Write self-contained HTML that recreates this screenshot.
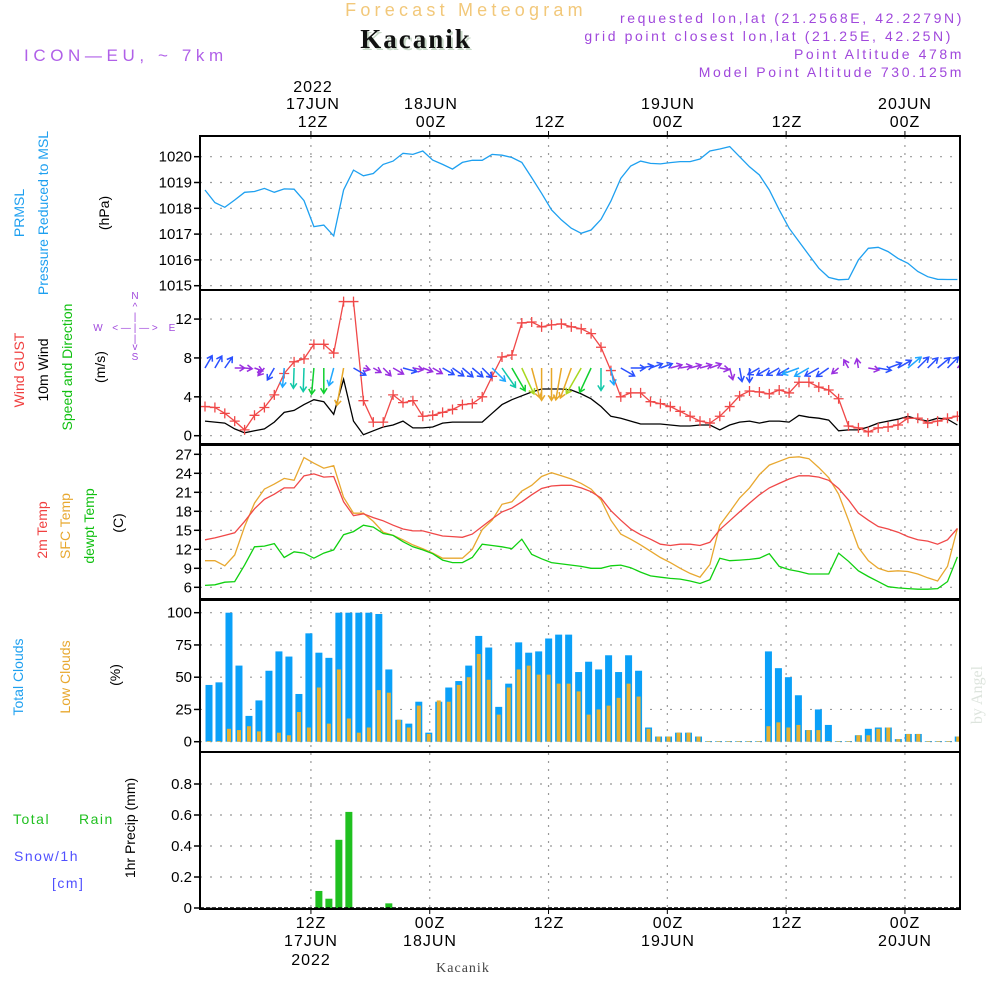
<!DOCTYPE html>
<html><head><meta charset="utf-8"><title>Meteogram Kacanik</title>
<style>
html,body{margin:0;padding:0;background:#fff;}
svg{display:block;font-family:"Liberation Sans",sans-serif;}
.t{font-size:14px;fill:#000;}
</style></head>
<body>
<svg id="chart" width="1000" height="1000" viewBox="0 0 1000 1000">
<defs>
<clipPath id="c1"><rect x="201" y="137" width="758" height="153"/></clipPath>
<clipPath id="c2"><rect x="201" y="291" width="758" height="153"/></clipPath>
<clipPath id="c3"><rect x="201" y="446" width="758" height="153"/></clipPath>
<clipPath id="c4"><rect x="201" y="601" width="758" height="151"/></clipPath>
<clipPath id="c5"><rect x="201" y="753" width="758" height="156"/></clipPath>
</defs>
<!-- header -->
<text x="466" y="16" text-anchor="middle" font-size="18" fill="#f2c87a" letter-spacing="4.2">Forecast Meteogram</text>
<text x="418" y="50" text-anchor="middle" font-size="27" font-weight="bold" font-family="Liberation Serif, serif" fill="#c8d8c8" letter-spacing="2">Kacanik</text>
<text x="416" y="48" text-anchor="middle" font-size="27" font-weight="bold" font-family="Liberation Serif, serif" fill="#111" letter-spacing="2">Kacanik</text>
<text x="24" y="61" font-size="17" fill="#b060e8" letter-spacing="4.6">ICON—EU, ~ 7km</text>
<g font-size="14" fill="#a048dc" text-anchor="end" letter-spacing="2.6">
<text x="964" y="23">requested lon,lat (21.2568E, 42.2279N)</text>
<text x="953" y="41">grid point closest lon,lat (21.25E, 42.25N)</text>
<text x="964" y="59">Point Altitude 478m</text>
<text x="964" y="77">Model Point Altitude 730.125m</text>
</g>
<!-- top time axis -->
<g class="t" font-size="16" fill="#222" text-anchor="middle" letter-spacing="1">
<text x="313" y="92" font-size="16">2022</text>
<text x="313" y="109" font-size="16">17JUN</text><text x="313" y="127" font-size="16">12Z</text>
<text x="431" y="109" font-size="16">18JUN</text><text x="431" y="127" font-size="16">00Z</text>
<text x="550" y="127" font-size="16">12Z</text>
<text x="668" y="109" font-size="16">19JUN</text><text x="668" y="127" font-size="16">00Z</text>
<text x="787" y="127" font-size="16">12Z</text>
<text x="905" y="109" font-size="16">20JUN</text><text x="905" y="127" font-size="16">00Z</text>
</g>
<g class="t" fill="#222" text-anchor="middle" letter-spacing="1">
<text x="311" y="928" font-size="16">12Z</text><text x="311" y="946" font-size="16">17JUN</text><text x="311" y="965" font-size="16">2022</text>
<text x="430" y="928" font-size="16">00Z</text><text x="430" y="946" font-size="16">18JUN</text>
<text x="549" y="928" font-size="16">12Z</text>
<text x="668" y="928" font-size="16">00Z</text><text x="668" y="946" font-size="16">19JUN</text>
<text x="787" y="928" font-size="16">12Z</text>
<text x="905" y="928" font-size="16">00Z</text><text x="905" y="946" font-size="16">20JUN</text>
</g>
<text x="463" y="972" text-anchor="middle" font-size="14" font-family="Liberation Serif, serif" fill="#444" letter-spacing="1">Kacanik</text>
<!-- left labels -->
<g font-size="14">
<text transform="translate(24,213) rotate(-90)" text-anchor="middle" fill="#1ea0f0">PRMSL</text>
<text transform="translate(48,213) rotate(-90)" text-anchor="middle" fill="#1ea0f0">Pressure Reduced to MSL</text>
<text transform="translate(109,213) rotate(-90)" text-anchor="middle" fill="#000">(hPa)</text>
<text transform="translate(24,370) rotate(-90)" text-anchor="middle" fill="#f04040">Wind GUST</text>
<text transform="translate(48,370) rotate(-90)" text-anchor="middle" fill="#000">10m Wind</text>
<text transform="translate(72,367) rotate(-90)" text-anchor="middle" fill="#10c010">Speed and Direction</text>
<text transform="translate(105,367) rotate(-90)" text-anchor="middle" fill="#000">(m/s)</text>
<text transform="translate(47,530) rotate(-90)" text-anchor="middle" fill="#f04040">2m Temp</text>
<text transform="translate(70,526) rotate(-90)" text-anchor="middle" fill="#e8a830">SFC Temp</text>
<text transform="translate(94,526) rotate(-90)" text-anchor="middle" fill="#10c010">dewpt Temp</text>
<text transform="translate(123,523) rotate(-90)" text-anchor="middle" fill="#000">(C)</text>
<text transform="translate(23,677) rotate(-90)" text-anchor="middle" fill="#1ea0f0">Total Clouds</text>
<text transform="translate(70,677) rotate(-90)" text-anchor="middle" fill="#e8a830">Low Clouds</text>
<text transform="translate(120,675) rotate(-90)" text-anchor="middle" fill="#000">(%)</text>
<text transform="translate(135,828) rotate(-90)" text-anchor="middle" fill="#000">1hr Precip (mm)</text>
<text x="13" y="824" fill="#20c020" letter-spacing="1.5">Total</text>
<text x="79" y="824" fill="#20c020" letter-spacing="1.5">Rain</text>
<text x="14" y="861" fill="#5050ff" letter-spacing="1.5">Snow/1h</text>
<text x="52" y="888" fill="#5050ff" letter-spacing="1.5">[cm]</text>
</g>
<g font-size="10" fill="#a048dc" text-anchor="middle">
<text x="135" y="299">N</text><text x="135" y="310">^</text><text x="135" y="320">|</text>
<text x="98" y="331">W</text><text x="135" y="331">&lt; — | — &gt;</text><text x="172" y="331">E</text>
<text x="135" y="342">|</text><text x="135" y="350">v</text><text x="135" y="360">S</text>
</g>
<text transform="translate(982,695) rotate(-90)" text-anchor="middle" font-size="16" font-family="Liberation Serif, serif" fill="#dde4dd">by Angel</text>
<g id="grid"></g>
<g id="marks"></g>
<g id="frames"></g>
</svg>
<script>
// ---- data ----
const pressure = [1018.71,1018.22,1018.04,1018.32,1018.62,1018.65,1018.77,1018.62,1018.75,1018.74,1018.3,1017.29,1017.35,1016.93,1018.71,1019.48,1019.26,1019.35,1019.70,1019.83,1020.13,1020.09,1020.22,1019.87,1019.70,1019.52,1019.78,1019.86,1019.86,1020.09,1020.06,1019.97,1019.78,1019.19,1018.58,1017.94,1017.55,1017.23,1017.03,1017.16,1017.57,1018.28,1019.16,1019.64,1019.83,1019.74,1019.72,1019.77,1019.81,1019.81,1019.91,1020.22,1020.30,1020.39,1020.0,1019.61,1019.29,1018.71,1017.94,1017.23,1016.71,1016.19,1015.68,1015.32,1015.23,1015.25,1016.0,1016.45,1016.49,1016.32,1016.06,1015.87,1015.55,1015.35,1015.25,1015.24,1015.24];
const gust = [3.0,2.9,2.3,1.5,0.6,2.1,2.9,4.2,6.4,7.6,7.9,9.4,9.4,8.5,13.8,13.8,3.6,1.4,1.4,4.2,3.4,3.6,2.0,2.1,2.4,2.7,3.2,3.3,4.0,6.1,8.1,8.3,11.6,11.7,11.2,11.4,11.5,11.2,11.0,10.5,9.1,6.7,4.0,4.4,4.4,3.5,3.3,3.0,2.5,2.0,1.5,1.3,2.0,3.0,4.1,4.6,4.5,4.3,4.7,4.4,5.5,5.5,5.0,4.7,3.8,1.0,0.8,0.4,0.8,0.9,1.1,1.8,1.8,1.3,1.5,1.8,2.0];
const wind = [1.5,1.4,1.3,0.7,0.3,0.5,0.7,1.4,2.4,2.6,3.2,3.7,3.5,2.2,5.8,1.5,0.1,0.5,0.9,1.1,1.5,0.8,0.8,0.9,1.3,1.4,1.4,1.4,1.4,2.3,3.2,3.7,4.1,4.5,4.8,4.8,4.8,4.7,4.3,3.8,3.0,2.0,1.8,1.5,1.2,1.2,1.2,1.1,1.0,1.0,1.1,1.1,0.6,1.1,1.4,1.5,1.3,1.5,1.5,1.4,2.1,1.9,1.8,1.6,0.5,0.6,0.6,0.9,1.3,1.5,1.7,2.0,1.7,1.5,1.8,1.7,1.1];
const windDir = [-60,-60,-55,0,5,20,130,120,95,92,92,95,90,105,100,30,15,30,45,30,15,10,20,30,30,35,40,40,45,45,55,60,65,75,90,90,100,110,120,115,90,80,30,0,-10,-20,-20,-15,-10,-15,-15,-20,10,75,80,90,150,150,150,150,160,150,150,145,140,-120,-100,10,10,-20,-30,-40,-45,-45,-40,-45,-50];
const temp2m = [13.5,13.8,14.2,14.6,16.4,18.4,19.9,20.7,21.7,21.7,23.6,23.9,23.4,23.5,19.5,17.3,17.6,17.0,16.5,15.8,15.2,14.9,14.9,14.5,14.1,14.0,13.9,14.4,15.6,16.8,17.9,18.5,19.5,20.6,21.6,22.0,22.1,22.1,21.7,21.1,20.1,18.1,16.6,15.2,14.3,13.6,12.8,12.6,12.8,12.8,12.6,13.1,15.1,16.5,17.9,19.3,20.6,21.7,22.4,23.1,23.6,23.6,23.4,22.9,21.6,19.8,17.7,16.6,15.6,15.2,14.7,14.0,13.5,13.3,12.8,13.5,15.3];
const tempSfc = [10.2,10.2,9.4,11.1,15.6,19.3,21.5,22.3,23.2,22.9,26.5,25.6,24.8,25.2,20.2,17.7,17.7,16.4,14.7,14.2,13.5,12.7,12.1,11.4,10.6,10.6,10.6,12.0,15.1,16.6,19.1,19.5,21.2,22.1,23.5,24.1,23.6,23.1,22.4,21.5,19.8,16.6,14.4,13.6,12.7,11.7,10.7,9.9,9.0,8.2,7.6,9.6,15.8,17.9,20.1,21.7,23.8,25.3,25.9,26.5,26.6,26.3,24.9,23.3,20.7,16.6,12.3,10.2,9.0,8.5,8.6,8.5,8.1,7.5,7.0,9.3,15.3];
const dewpt = [6.3,6.4,6.8,6.9,9.5,12.4,12.5,12.9,10.7,11.6,11.4,10.6,11.4,11.9,14.3,14.8,15.8,15.5,14.5,14.2,13.2,12.4,11.9,11.3,10.3,9.9,9.9,10.7,12.8,12.6,12.4,12.1,13.6,11.2,10.5,9.9,9.7,9.5,9.3,9.0,9.0,9.4,9.5,9.1,8.4,7.8,7.6,7.4,7.3,7.0,6.6,7.2,10.6,10.2,10.3,10.4,10.6,11.3,9.3,8.8,8.5,8.1,8.1,8.1,11.4,10.1,8.6,7.7,6.9,6.1,5.9,5.8,5.7,5.7,5.8,6.9,10.8];
const totalClouds = [44,46,100,59,20,32,55,70,66,37,84,69,65,100,100,100,100,99,56,17,14,31,7,31,42,47,59,82,73,27,45,77,69,70,80,83,83,54,62,56,67,54,67,55,11,4,4,7,7,4,0.5,0.5,0.5,0.5,0.5,0.5,70,57,50,36,9,25,13,0.5,0.5,5,10,11,11,2,6,6,0.5,0.5,0.5,4];
const lowClouds = [0.5,0.5,10,9,12,8,0.5,7,5,23,11,42,14,56,18,7,11,40,38,17,11,28,6,32,31,44,50,68,48,21,42,56,59,52,52,45,45,39,21,25,28,34,45,35,10,4,4,7,7,4,0.5,0.5,0.5,0.5,0.5,0.5,12,15,11,13,9,9,0.5,0.5,0.5,5,5,10,11,2,6,6,0.5,0.5,0.5,4];
const precipIdx = [11,12,13,14,18];
const precipVal = [0.11,0.06,0.44,0.62,0.03];
const presTicks = [1015,1016,1017,1018,1019,1020];
const windTicks = [0,4,8,12];
const tempTicks = [6,9,12,15,18,21,24,27];
const cloudTicks = [0,25,50,75,100];
const precipTicks = [0,0.2,0.4,0.6,0.8];
const timeGridHours = [10.7,22.7,34.7,46.7,58.7,70.7];

// ---- scales ----
const px = i => 205 + 9.9*i;
const barX = i => 209 + 9.99*i;
const yP = v => 285.7 - (v-1015)*25.8;
const yW = v => 435.7 - v*9.72;
const yT = v => 587.3 - (v-6)*6.333;
const yC = v => 741.7 - v*1.29;
const yR = v => 908 - v*155;

const NS='http://www.w3.org/2000/svg';
const marks=document.getElementById('marks');
const grid=document.getElementById('grid');
const frames=document.getElementById('frames');
function mk(tag, attrs, parent){const e=document.createElementNS(NS,tag);for(const k in attrs)e.setAttribute(k,attrs[k]);(parent||marks).appendChild(e);return e;}

const panels=[{t:137,b:290,ticks:presTicks,y:yP,fmt:v=>v,name:'pressure'},
{t:291,b:444,ticks:windTicks,y:yW,fmt:v=>v,name:'wind'},
{t:446,b:599,ticks:tempTicks,y:yT,fmt:v=>v,name:'temperature'},
{t:601,b:752,ticks:cloudTicks,y:yC,fmt:v=>v,name:'clouds'},
{t:753,b:909,ticks:precipTicks,y:yR,fmt:v=>v===0?'0':v.toFixed(1),name:'precip'}];
panels.forEach(p=>{
  timeGridHours.forEach(h=>{
    const l=mk('line',{x1:px(h),x2:px(h),y1:p.t,y2:p.b,stroke:'#999','stroke-dasharray':'2,6','stroke-width':1.2},grid);
    
    
  });
  p.ticks.forEach(v=>{
    const y=p.y(v);
    const g=mk('line',{x1:200,x2:960,y1:y,y2:y,stroke:'#999','stroke-dasharray':'2,8','stroke-width':1.2},grid);
    
    
    const tk=mk('line',{x1:194,x2:200,y1:y,y2:y,stroke:'#000','stroke-width':1.5},frames);
    
    
    const tx=mk('text',{x:192,y:y+5,'text-anchor':'end','font-size':15,fill:'#000'},frames);
    tx.textContent=p.fmt(v);
    
    
  });
  const r=mk('rect',{x:200,y:p.t-1,width:760,height:p.b-p.t+1,fill:'none',stroke:'#000','stroke-width':2},frames);
  
  
});
timeGridHours.forEach(h=>{
  const a=mk('line',{x1:px(h),x2:px(h),y1:131,y2:136,stroke:'#000'},frames);
  
  
  const b=mk('line',{x1:px(h),x2:px(h),y1:909,y2:914,stroke:'#000'},frames);
  
  
});

function line(arr,yf,color,clip,name,w){
  const d=arr.map((v,i)=>(i?'L':'M')+px(i).toFixed(1)+','+yf(v).toFixed(1)).join('');
  const p=mk('path',{d:d,fill:'none',stroke:color,'stroke-width':w||1.3,'clip-path':'url(#'+clip+')'});
  
  
  return p;
}
line(pressure,yP,'#1ea0f0','c1','pressure-line');
line(wind,yW,'#000','c2','wind-speed-line');
line(gust,yW,'#f04848','c2','wind-gust-line');
gust.forEach((v,i)=>{
  const x=px(i),y=yW(v);
  const m=mk('path',{d:`M${x-5},${y}H${x+5}M${x},${y-5}V${y+5}`,stroke:'#f04848','stroke-width':1.3,'clip-path':'url(#c2)'});
  
  
});
function spdColor(s){
  if(s<1.15)return '#9a30e0';
  if(s<1.9)return '#2a50ff';
  if(s<2.5)return '#20a8ff';
  if(s<3.4)return '#10c8a8';
  if(s<4.0)return '#10d030';
  if(s<4.5)return '#a8d820';
  return '#e8a828';
}
windDir.forEach((a,i)=>{
  const s=wind[i];
  const len=6+s*5.5;
  const x0=px(i), y0=368;
  const r=a*Math.PI/180;
  const x1=x0+len*Math.cos(r), y1=y0+len*Math.sin(r);
  const h1=r+Math.PI*0.82, h2=r-Math.PI*0.82;
  const c=spdColor(s);
  const d=`M${x0.toFixed(1)},${y0}L${x1.toFixed(1)},${y1.toFixed(1)}M${(x1+6*Math.cos(h1)).toFixed(1)},${(y1+6*Math.sin(h1)).toFixed(1)}L${x1.toFixed(1)},${y1.toFixed(1)}L${(x1+6*Math.cos(h2)).toFixed(1)},${(y1+6*Math.sin(h2)).toFixed(1)}`;
  const p=mk('path',{d:d,fill:'none',stroke:c,'stroke-width':1.5,'clip-path':'url(#c2)'});
  
  
});
line(tempSfc,yT,'#e8a830','c3','sfc-temp-line');
line(temp2m,yT,'#f04848','c3','2m-temp-line');
line(dewpt,yT,'#10d010','c3','dewpoint-line');
totalClouds.forEach((v,i)=>{
  const x=barX(i);
  const b=mk('rect',{x:x-3.5,y:yC(v),width:7,height:yC(0)-yC(v),fill:'#0aa0f8','clip-path':'url(#c4)'});
  
  
});
lowClouds.forEach((v,i)=>{
  const x=barX(i);
  const b=mk('rect',{x:x-2,y:yC(v),width:4,height:yC(0)-yC(v),fill:'#e8b030','clip-path':'url(#c4)'});
  
  
});
precipIdx.forEach((idx,k)=>{
  const x=barX(idx);
  const v=precipVal[k];
  const b=mk('rect',{x:x-3.5,y:yR(v),width:7,height:yR(0)-yR(v),fill:'#20c020','clip-path':'url(#c5)'});
  
  
});
const zl=mk('line',{x1:200,x2:960,y1:yR(0),y2:yR(0),stroke:'#000','stroke-width':1.5,'stroke-dasharray':'4,2'});


</script>
</body></html>
